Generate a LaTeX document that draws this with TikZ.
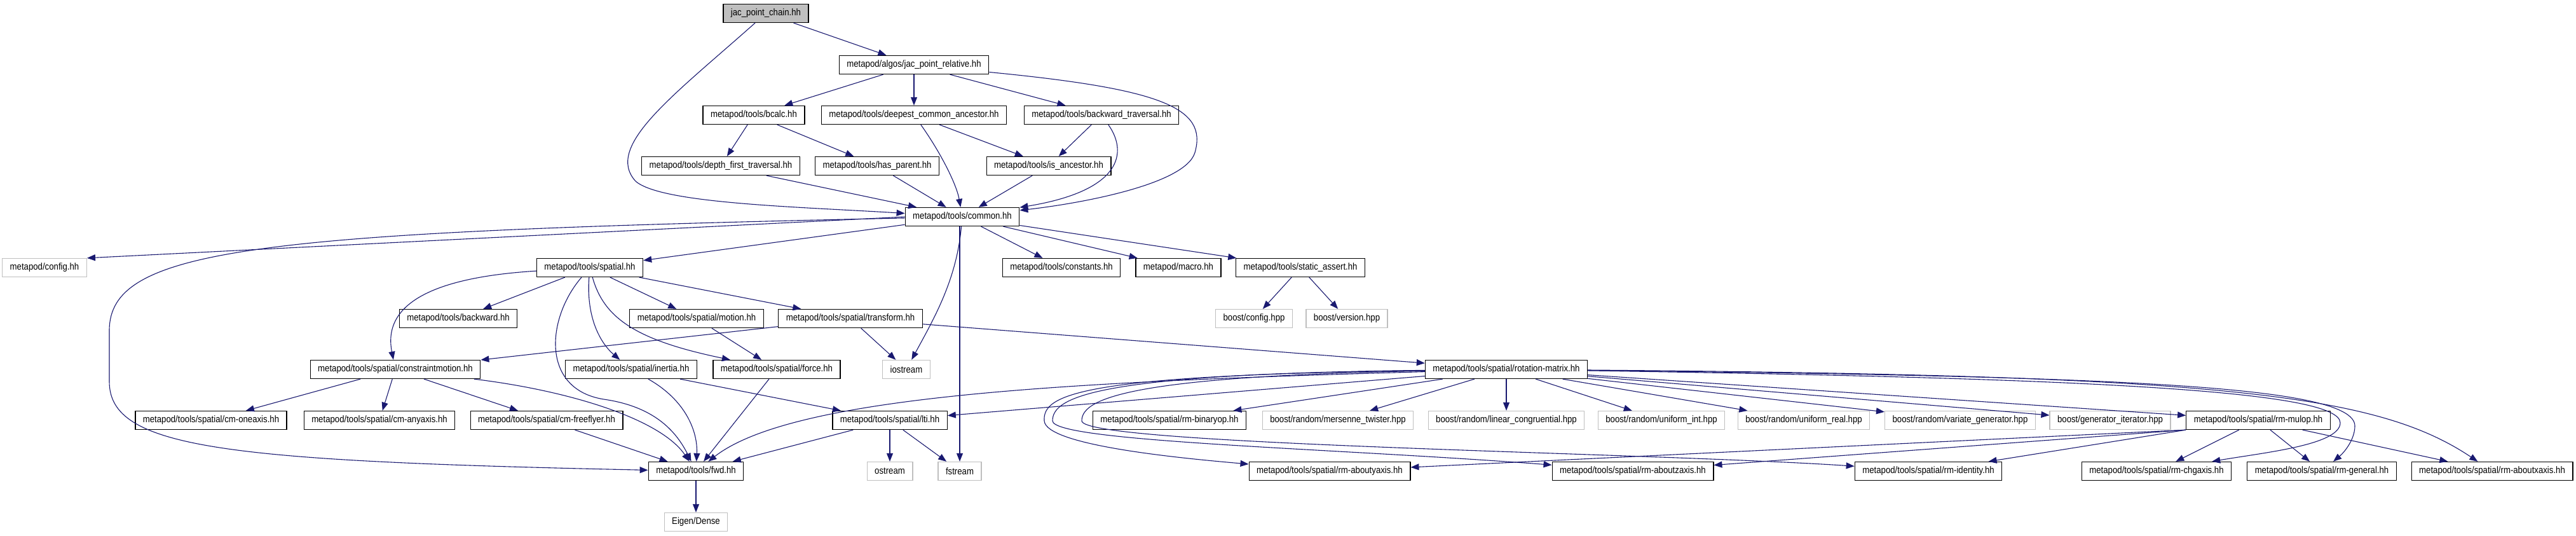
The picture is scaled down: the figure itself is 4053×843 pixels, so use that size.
\documentclass[tikz,border=0pt]{standalone}
\usepackage{fontspec}
\setmainfont{Liberation Sans}[FakeStretch=0.88]
\usetikzlibrary{arrows.meta}

\definecolor{edgeblue}{HTML}{191970}
\definecolor{boxgray}{HTML}{BFBFBF}

\begin{document}
\begin{tikzpicture}[x=1pt, y=-1pt,
    file/.style={draw=black, line width=1.3pt, fill=white, rectangle, minimum height=29pt,
        inner xsep=12pt, inner ysep=0pt, font=\fontsize{15}{18}\selectfont},
    sysfile/.style={file, draw=boxgray},
    rootfile/.style={file, fill=boxgray},
    dep/.style={draw=edgeblue, line width=1.1pt, -{Triangle[length=13pt,width=10pt]}}]

    % Fix the page size
    \useasboundingbox (0,0) rectangle (4053,843);

    % Top part of the include graph
    \node[rootfile] (chain) at (1205,21) {jac\_point\_chain.hh};
    \node[file] (relative) at (1438,102) {metapod/algos/jac\_point\_relative.hh};
    \node[file] (bcalc) at (1186,181) {metapod/tools/bcalc.hh};
    \node[file] (ancestor) at (1438,181) {metapod/tools/deepest\_common\_ancestor.hh};
    \node[file] (backtrav) at (1733,181) {metapod/tools/backward\_traversal.hh};
    \node[file] (depthfirst) at (1134,261) {metapod/tools/depth\_first\_traversal.hh};
    \node[file] (hasparent) at (1380,261) {metapod/tools/has\_parent.hh};
    \node[file] (isancestor) at (1650,261) {metapod/tools/is\_ancestor.hh};
    \node[file] (common) at (1514,341) {metapod/tools/common.hh};

    % Headers pulled in by common.hh
    \node[sysfile] (config) at (70,421) {metapod/config.hh};
    \node[file] (spatial) at (928,421) {metapod/tools/spatial.hh};
    \node[file] (constants) at (1670,421) {metapod/tools/constants.hh};
    \node[file] (macro) at (1854,421) {metapod/macro.hh};
    \node[file] (sassert) at (2046,421) {metapod/tools/static\_assert.hh};
    \node[file] (backward) at (721,501) {metapod/tools/backward.hh};
    \node[file] (motion) at (1096,501) {metapod/tools/spatial/motion.hh};
    \node[file] (transform) at (1338,501) {metapod/tools/spatial/transform.hh};
    \node[sysfile] (bconfig) at (1973,501) {boost/config.hpp};
    \node[sysfile] (bversion) at (2119,501) {boost/version.hpp};
    \node[file] (cmotion) at (622,581) {metapod/tools/spatial/constraintmotion.hh};
    \node[file] (inertia) at (993,581) {metapod/tools/spatial/inertia.hh};
    \node[file] (force) at (1222,581) {metapod/tools/spatial/force.hh};
    \node[sysfile] (iostream) at (1426,581) {iostream};
    \node[file] (rotmat) at (2370,581) {metapod/tools/spatial/rotation-matrix.hh};

    % Lower rows
    \node[file] (oneaxis) at (332,661) {metapod/tools/spatial/cm-oneaxis.hh};
    \node[file] (anyaxis) at (597,661) {metapod/tools/spatial/cm-anyaxis.hh};
    \node[file] (freeflyer) at (860,661) {metapod/tools/spatial/cm-freeflyer.hh};
    \node[file] (lti) at (1400,661) {metapod/tools/spatial/lti.hh};
    \node[file] (binaryop) at (1840,661) {metapod/tools/spatial/rm-binaryop.hh};
    \node[sysfile] (mersenne) at (2105,661) {boost/random/mersenne\_twister.hpp};
    \node[sysfile] (lincong) at (2370,661) {boost/random/linear\_congruential.hpp};
    \node[sysfile] (uniint) at (2614,661) {boost/random/uniform\_int.hpp};
    \node[sysfile] (unireal) at (2838,661) {boost/random/uniform\_real.hpp};
    \node[sysfile] (variate) at (3084,661) {boost/random/variate\_generator.hpp};
    \node[sysfile] (geniter) at (3320,661) {boost/generator\_iterator.hpp};
    \node[file] (mulop) at (3553,661) {metapod/tools/spatial/rm-mulop.hh};
    \node[file] (fwd) at (1095,741) {metapod/tools/fwd.hh};
    \node[sysfile] (ostream) at (1400,741) {ostream};
    \node[sysfile] (fstream) at (1510,741) {fstream};
    \node[file] (abouty) at (2092,741) {metapod/tools/spatial/rm-aboutyaxis.hh};
    \node[file] (aboutz) at (2569,741) {metapod/tools/spatial/rm-aboutzaxis.hh};
    \node[file] (identity) at (3034,741) {metapod/tools/spatial/rm-identity.hh};
    \node[file] (chgaxis) at (3393,741) {metapod/tools/spatial/rm-chgaxis.hh};
    \node[file] (general) at (3653,741) {metapod/tools/spatial/rm-general.hh};
    \node[file] (aboutx) at (3921,741) {metapod/tools/spatial/rm-aboutxaxis.hh};
    \node[sysfile] (eigen) at (1095,821) {Eigen/Dense};

    % Edges of the top part
    \draw[dep] (chain) -- (relative);
    \draw[dep] (chain) .. controls (1060,150) and (950,230) .. (1000,285) .. controls (1040,320) and (1250,325) .. (common);
    \draw[dep] (relative) -- (bcalc);
    \draw[dep] (relative) -- (ancestor);
    \draw[dep] (relative) -- (backtrav);
    \draw[dep] (relative) .. controls (1830,140) and (1900,170) .. (1880,240) .. controls (1865,290) and (1700,320) .. (common);
    \draw[dep] (bcalc) -- (depthfirst);
    \draw[dep] (bcalc) -- (hasparent);
    \draw[dep] (ancestor) .. controls (1480,240) and (1505,290) .. (common);
    \draw[dep] (ancestor) -- (isancestor);
    \draw[dep] (backtrav) -- (isancestor);
    \draw[dep] (backtrav) .. controls (1775,240) and (1765,300) .. (common);
    \draw[dep] (depthfirst) -- (common);
    \draw[dep] (hasparent) -- (common);
    \draw[dep] (isancestor) -- (common);

    % Edges from common.hh
    \draw[dep] (common.west) -- (config.north east);
    \draw[dep] (common) .. controls (400,365) and (172,390) .. (172,520) -- (172,600) .. controls (172,705) and (350,725) .. (fwd);
    \draw[dep] (common) -- (spatial);
    \draw[dep] (common) .. controls (1505,440) and (1470,500) .. (iostream);
    \draw[dep] (common.south -| fstream) -- (fstream);
    \draw[dep] (common) -- (constants);
    \draw[dep] (common) -- (macro);
    \draw[dep] (common) -- (sassert);
    \draw[dep] (sassert) -- (bconfig);
    \draw[dep] (sassert) -- (bversion);

    % Edges from spatial.hh and below
    \draw[dep] (spatial) .. controls (700,435) and (600,470) .. (cmotion);
    \draw[dep] (spatial) -- (backward);
    \draw[dep] (spatial) .. controls (860,500) and (850,612) .. (950,628) .. controls (1020,638) and (1060,670) .. (fwd);
    \draw[dep] (spatial) .. controls (922,500) and (945,540) .. (inertia);
    \draw[dep] (spatial) .. controls (950,500) and (1000,535) .. (force);
    \draw[dep] (spatial) -- (motion);
    \draw[dep] (spatial) -- (transform);
    \draw[dep] (transform) -- (cmotion);
    \draw[dep] (transform) -- (iostream);
    \draw[dep] (transform) -- (rotmat);
    \draw[dep] (motion) -- (force);
    \draw[dep] (inertia) .. controls (1080,630) and (1098,680) .. (fwd);
    \draw[dep] (inertia) -- (lti);
    \draw[dep] (force) -- (fwd);
    \draw[dep] (cmotion) -- (oneaxis);
    \draw[dep] (cmotion) -- (anyaxis);
    \draw[dep] (cmotion) -- (freeflyer);
    \draw[dep] (cmotion) .. controls (900,615) and (1040,660) .. (fwd);
    \draw[dep] (freeflyer) -- (fwd);
    \draw[dep] (lti) -- (fwd);
    \draw[dep] (lti) -- (ostream);
    \draw[dep] (lti) -- (fstream);
    \draw[dep] (fwd) -- (eigen);

    % Edges from rotation-matrix.hh
    \draw[dep] (rotmat) .. controls (1700,600) and (1250,620) .. (fwd);
    \draw[dep] (rotmat) -- (lti);
    \draw[dep] (rotmat) .. controls (1700,590) and (1640,620) .. (1643,662) .. controls (1646,700) and (1850,720) .. (abouty);
    \draw[dep] (rotmat) .. controls (1720,588) and (1656,625) .. (1656,662) .. controls (1658,695) and (2100,705) .. (aboutz);
    \draw[dep] (rotmat) .. controls (1760,592) and (1702,630) .. (1702,662) .. controls (1704,700) and (2600,712) .. (identity);
    \draw[dep] (rotmat) -- (binaryop);
    \draw[dep] (rotmat) -- (mersenne);
    \draw[dep] (rotmat) -- (lincong);
    \draw[dep] (rotmat) -- (uniint);
    \draw[dep] (rotmat) -- (unireal);
    \draw[dep] (rotmat) -- (variate);
    \draw[dep] (rotmat) -- (geniter);
    \draw[dep] (rotmat) -- (mulop);
    \draw[dep] (rotmat) .. controls (3300,595) and (3682,615) .. (3682,665) .. controls (3682,700) and (3560,712) .. (chgaxis);
    \draw[dep] (rotmat) .. controls (3320,592) and (3705,605) .. (3705,670) .. controls (3705,690) and (3690,710) .. (general);
    \draw[dep] (rotmat) .. controls (3500,590) and (3740,620) .. (aboutx);

    % Edges from rm-mulop.hh
    \draw[dep] (mulop.south west) -- (abouty);
    \draw[dep] (mulop.south west) -- (aboutz);
    \draw[dep] (mulop.south west) -- (identity);
    \draw[dep] (mulop) -- (chgaxis);
    \draw[dep] (mulop) -- (general);
    \draw[dep] (mulop) -- (aboutx);

\end{tikzpicture}
\end{document}
